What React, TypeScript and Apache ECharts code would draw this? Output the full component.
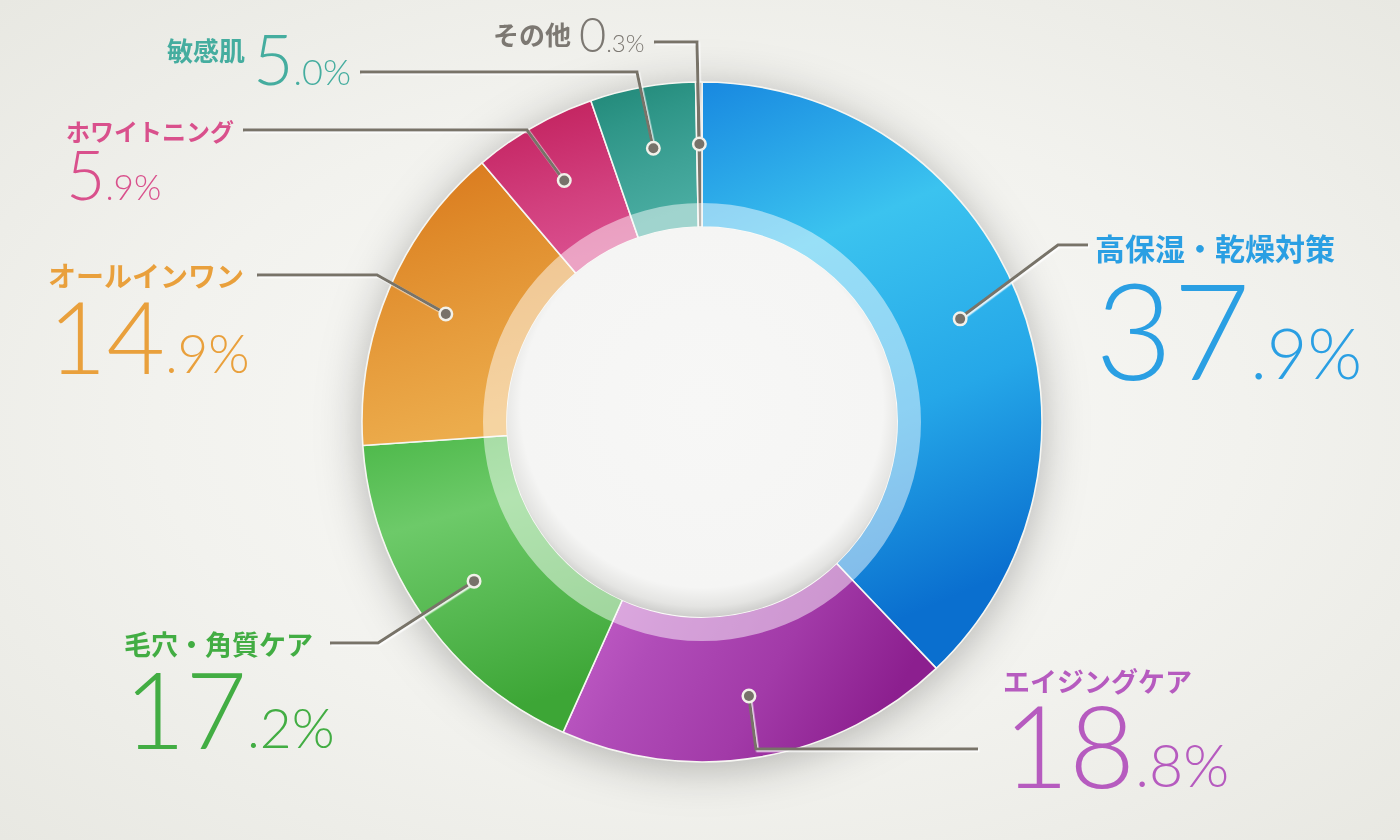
import { useEffect, useRef } from "react";
import * as echarts from "echarts";

const categories = ["高保湿・乾燥対策", "エイジングケア", "毛穴・角質ケア", "オールインワン", "ホワイトニング", "敏感肌", "その他"];
const shares = [37.9, 18.8, 17.2, 14.9, 5.9, 5.0, 0.3];
const textColors = ["#2a9fe3", "#b65bbf", "#42ad43", "#e9a03c", "#d9508c", "#45ad9f", "#7c7872"];
const sliceStops = [
  ["#1888e0", "#3bc3ef", "#25a7e8", "#0a6fcf"],
  ["#c864cc", "#b04cb8", "#a23aa8", "#8c1f8f"],
  ["#4cb849", "#6dca69", "#55b850", "#3da636"],
  ["#d8741a", "#df8a2a", "#e69c3c", "#ecac4c"],
  ["#bf1f58", "#c92e6c", "#d2407e", "#da4f8f"],
  ["#1f8676", "#2f9688", "#3ea296", "#4aada2"],
  ["#7a756b", "#7a756b", "#7a756b", "#7a756b"],
];

const CX = 702;
const CY = 422;
const R_OUT = 340;
const R_BAND = 219;
const R_IN = 195;
const R_DOT = 275;
// baseline offset from the top of a token, as a share of its font size
const K = 0.88;
const SMALL = 0.52;
const CJK = "'Noto Sans CJK JP', sans-serif";
const NUM = "Lato, 'Open Sans', sans-serif";

type Spot = {
  x: number;
  nameY: number;
  base: number;
  size: number;
  nameSize: number;
  inline?: boolean;
  gap?: number;
  elbow: number[];
  end: number[];
};

const spots: Spot[] = [
  { x: 1095, nameY: 247, base: 379, size: 134, nameSize: 30, elbow: [1058, 245], end: [1088, 245] },
  { x: 1003, nameY: 680, base: 787, size: 114, nameSize: 27, elbow: [756, 749], end: [978, 749] },
  { x: 124, nameY: 643, base: 748, size: 106, nameSize: 27, elbow: [378, 643], end: [330, 643] },
  { x: 48, nameY: 275, base: 373, size: 101, nameSize: 28, elbow: [377, 275], end: [257, 275] },
  { x: 66, nameY: 130, base: 199, size: 68, nameSize: 24, elbow: [527, 130], end: [243, 130] },
  { x: 167, nameY: 50, base: 85, size: 70, nameSize: 26, inline: true, gap: 8, elbow: [637, 72], end: [360, 72] },
  { x: 493, nameY: 34, base: 52, size: 47, nameSize: 26, inline: true, gap: 8, elbow: [697, 42], end: [654, 42] },
];

const total = shares.reduce((a, b) => a + b, 0);

function anchor(i: number) {
  const before = shares.slice(0, i).reduce((a, b) => a + b, 0);
  const t = ((before + shares[i] / 2) / total) * Math.PI * 2;
  return [CX + R_DOT * Math.sin(t), CY - R_DOT * Math.cos(t)];
}

function splitValue(v: number) {
  const [a, b] = v.toFixed(1).split(".");
  return [a, "." + b + "%"];
}

// top of the number line
function numTop(sp: Spot) {
  return sp.base - K * sp.size;
}

function blockTop(sp: Spot) {
  return sp.inline ? numTop(sp) : sp.nameY - sp.nameSize / 2;
}

const rich: Record<string, any> = {};
spots.forEach((sp, i) => {
  const B = sp.size;
  const S = Math.round(B * SMALL);
  const T2 = numTop(sp);
  rich["n" + i] = {
    fontFamily: CJK,
    fontWeight: "bold",
    fontSize: sp.nameSize,
    color: textColors[i],
    verticalAlign: "top",
    lineHeight: sp.inline ? sp.nameSize : T2 - sp.nameY + sp.nameSize / 2,
    padding: sp.inline ? [sp.nameY - T2 - sp.nameSize / 2, sp.gap, 0, 0] : 0,
  };
  rich["b" + i] = { fontFamily: NUM, fontWeight: 300, fontSize: B, lineHeight: B, color: textColors[i], verticalAlign: "top" };
  rich["s" + i] = {
    fontFamily: NUM,
    fontWeight: 300,
    fontSize: S,
    lineHeight: S,
    color: textColors[i],
    verticalAlign: "top",
    padding: [K * (B - S), 0, 0, 0],
  };
});

export default function App() {
  const chartRef = useRef<HTMLDivElement | null>(null);

  useEffect(() => {
    if (!chartRef.current) return;
    const chart = echarts.init(chartRef.current, undefined, { renderer: "svg" });
    const center = [CX, CY];
    const pieData = categories.map((name, i) => ({ name, value: shares[i] }));
    chart.setOption({
      animation: false,
      series: [
        {
          type: "pie",
          silent: true,
          z: 1,
          center,
          radius: [R_IN, R_OUT],
          label: { show: false },
          labelLine: { show: false },
          itemStyle: { color: "#e4e4e0", shadowBlur: 45, shadowColor: "rgba(0,0,0,0.28)", shadowOffsetY: 6 },
          data: [{ value: 1 }],
        },
        {
          type: "pie",
          silent: true,
          z: 2,
          center,
          radius: [R_IN, R_OUT],
          startAngle: 90,
          label: { show: false },
          labelLine: { show: false },
          itemStyle: { borderColor: "#f6f6f2", borderWidth: 1.6 },
          data: categories.map((name, i) => ({
            name,
            value: shares[i],
            itemStyle: {
              color: {
                type: "linear",
                x: 0,
                y: 0,
                x2: i === 1 ? 1 : 0.25,
                y2: i === 1 ? 0.3 : 1,
                colorStops: sliceStops[i].map((c, k) => ({ offset: k / 3, color: c })),
              },
            },
          })),
        },
        {
          type: "pie",
          silent: true,
          z: 3,
          center,
          radius: [R_IN, R_BAND],
          label: { show: false },
          labelLine: { show: false },
          itemStyle: { color: "rgba(255,255,255,0.48)" },
          data: [{ value: 1 }],
        },
        {
          type: "pie",
          silent: true,
          z: 3,
          center,
          radius: [0, R_IN],
          label: { show: false },
          labelLine: { show: false },
          itemStyle: {
            color: {
              type: "radial",
              x: 0.5,
              y: 0.46,
              r: 0.54,
              colorStops: [
                { offset: 0, color: "#f7f7f6" },
                { offset: 0.86, color: "#f5f5f4" },
                { offset: 0.95, color: "#e4e4e2" },
                { offset: 1, color: "#cdcdcb" },
              ],
            },
          },
          data: [{ value: 1 }],
        },
        {
          // labels and leader lines, above the ring
          type: "pie",
          silent: true,
          z: 5,
          center,
          radius: [R_IN, R_OUT],
          startAngle: 90,
          avoidLabelOverlap: false,
          itemStyle: { color: "transparent", borderWidth: 0 },
          data: pieData,
          label: {
            show: true,
            position: "outside",
            rich,
            formatter: (p: any) => {
              const i = p.dataIndex;
              const [a, b] = splitValue(shares[i]);
              const sep = spots[i].inline ? "" : "\n";
              return `{n${i}|${categories[i]}}${sep}{b${i}|${a}}{s${i}|${b}}`;
            },
          },
          labelLine: {
            show: true,
            smooth: false,
            lineStyle: {
              color: "#787368",
              width: 3,
              shadowColor: "rgba(255,255,255,0.85)",
              shadowOffsetX: 1.5,
              shadowOffsetY: 1.5,
              shadowBlur: 0,
            },
          },
          labelLayout: (p: any) => {
            const sp = spots[p.dataIndex];
            return {
              x: sp.x,
              y: blockTop(sp),
              align: "left",
              verticalAlign: "top",
              labelLinePoints: [anchor(p.dataIndex), sp.elbow, sp.end],
            };
          },
        },
        {
          type: "pie",
          silent: true,
          z: 6,
          center,
          radius: [R_DOT - 25, R_DOT + 25],
          startAngle: 90,
          itemStyle: { color: "transparent", borderWidth: 0 },
          labelLine: { show: false },
          label: {
            show: true,
            position: "inside",
            formatter: "{d| }",
            rich: {
              d: {
                width: 10,
                height: 10,
                borderRadius: 8,
                backgroundColor: "#77726a",
                borderColor: "#f2f1ea",
                borderWidth: 2.5,
              },
            },
          },
          data: pieData,
        },
      ],
    });
    return () => {
      chart.dispose();
    };
  }, []);

  return (
    <div
      ref={chartRef}
      style={{
        position: "fixed",
        left: 0,
        top: 0,
        width: 1400,
        height: 840,
        background: "radial-gradient(ellipse at 50% 50%, #fafaf8 0%, #f2f2ee 55%, #e8e8e2 100%)",
      }}
    />
  );
}
